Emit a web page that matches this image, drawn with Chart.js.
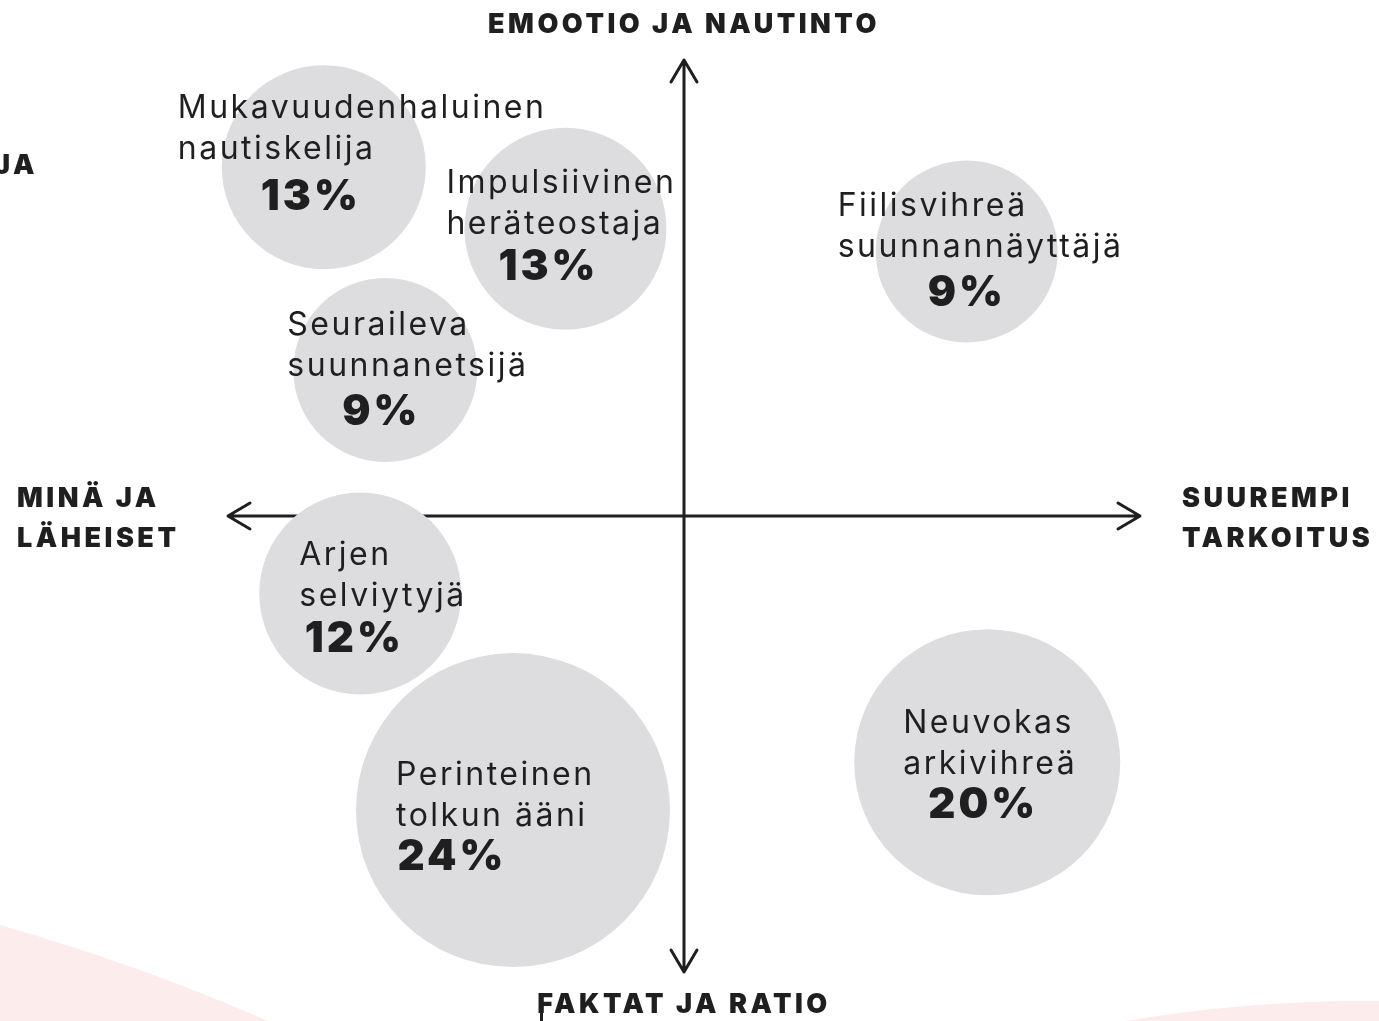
<!DOCTYPE html>
<html lang="fi">
<head>
<meta charset="utf-8">
<title>Kuluttajasegmentit</title>
<script src="https://cdn.jsdelivr.net/npm/chart.js@4"></script>
<style>
  html, body { margin: 0; padding: 0; background: #fff; overflow: hidden; }
  #wrap { width: 1379px; height: 1021px; }
</style>
</head>
<body>
<div id="wrap"><canvas id="segmentChart" width="1379" height="1021"></canvas></div>
<script>
// Segment data
const segmentNames = [
  ['Mukavuudenhaluinen', 'nautiskelija'],
  ['Impulsiivinen', 'heräteostaja'],
  ['Fiilisvihreä', 'suunnannäyttäjä'],
  ['Seuraileva', 'suunnanetsijä'],
  ['Arjen', 'selviytyjä'],
  ['Perinteinen', 'tolkun ääni'],
  ['Neuvokas', 'arkivihreä']
];
const shares = [13, 13, 9, 9, 12, 24, 20];
// position on the two axes: x = minä/läheiset (-) .. suurempi tarkoitus (+)
//                           y = faktat/ratio (-) .. emootio/nautinto (+)
const xValues = [-7.9, -2.6, 6.2, -6.55, -7.1, -3.75, 6.65];
const yValues = [7.65, 6.3, 5.8, 3.2, -1.7, -6.45, -5.4];
const bubbleRadius = [102, 101, 91, 92, 101, 157, 133];

// Axis labels
const axisTop = ['EMOOTIO JA NAUTINTO'];
const axisBottom = ['FAKTAT JA RATIO'];
const axisLeft = ['MINÄ JA', 'LÄHEISET'];
const axisRight = ['SUUREMPI', 'TARKOITUS'];
const axisExtent = 10;

// label placement relative to bubble centre: [textDx, textDy, pctDx, pctDy]
const labelOffsets = [
  [-146, -59, -13, 30],
  [-119, -45, -17, 39],
  [-129, -45, 0, 42],
  [-98, -45, -4, 42],
  [-61, -38, -6, 46],
  [-117, -35, -61, 47],
  [-84, -39, -4, 43]
];

const INK = '#1f1f1f';

// faint pink shapes at the bottom corners + the axis cross
const backdropPlugin = {
  id: 'backdrop',
  beforeDatasetsDraw(chart) {
    const { ctx, scales: { x, y } } = chart;
    ctx.save();
    ctx.fillStyle = '#fdecec';
    ctx.beginPath();
    ctx.moveTo(0, 925);
    ctx.quadraticCurveTo(140, 965, 268, 1021);
    ctx.lineTo(0, 1021);
    ctx.closePath();
    ctx.fill();
    ctx.beginPath();
    ctx.moveTo(1125, 1021);
    ctx.quadraticCurveTo(1250, 1000, 1379, 1001);
    ctx.lineTo(1379, 1021);
    ctx.closePath();
    ctx.fill();

    const cx = x.getPixelForValue(0), cy = y.getPixelForValue(0);
    const l = x.getPixelForValue(-axisExtent), r = x.getPixelForValue(axisExtent);
    const t = y.getPixelForValue(axisExtent), b = y.getPixelForValue(-axisExtent);
    ctx.strokeStyle = INK;
    ctx.lineWidth = 3;
    ctx.lineCap = 'round';
    ctx.lineJoin = 'round';
    ctx.beginPath();
    ctx.moveTo(l, cy); ctx.lineTo(r, cy);
    ctx.moveTo(cx, t); ctx.lineTo(cx, b);
    const h = 22, w = 13;
    ctx.moveTo(l + h, cy - w); ctx.lineTo(l, cy); ctx.lineTo(l + h, cy + w);
    ctx.moveTo(r - h, cy - w); ctx.lineTo(r, cy); ctx.lineTo(r - h, cy + w);
    ctx.moveTo(cx - w, t + h); ctx.lineTo(cx, t); ctx.lineTo(cx + w, t + h);
    ctx.moveTo(cx - w, b - h); ctx.lineTo(cx, b); ctx.lineTo(cx + w, b - h);
    ctx.stroke();
    ctx.restore();
  }
};

// segment names, shares and axis titles
const textPlugin = {
  id: 'texts',
  afterDatasetsDraw(chart) {
    const { ctx, scales: { x, y } } = chart;
    ctx.save();
    ctx.fillStyle = INK;
    ctx.textBaseline = 'middle';
    segmentNames.forEach((lines, i) => {
      const px = x.getPixelForValue(xValues[i]);
      const py = y.getPixelForValue(yValues[i]);
      const [dx, dy, pdx, pdy] = labelOffsets[i];
      ctx.font = '400 32px Inter, "DejaVu Sans", sans-serif';
      ctx.textAlign = 'left';
      ctx.letterSpacing = '2.5px';
      lines.forEach((line, k) => ctx.fillText(line, px + dx, py + dy + k * 41));
      ctx.font = '900 42px Inter, "DejaVu Sans", sans-serif';
      ctx.textAlign = 'center';
      ctx.letterSpacing = '3px';
      ctx.fillText(shares[i] + '%', px + pdx, py + pdy);
    });

    ctx.font = '900 27px Inter, "DejaVu Sans", sans-serif';
    ctx.letterSpacing = '3.5px';
    const cx = x.getPixelForValue(0), cy = y.getPixelForValue(0);
    ctx.textAlign = 'center';
    ctx.fillText(axisTop[0], cx, 25);
    ctx.fillText(axisBottom[0], cx, 1005);
    ctx.textAlign = 'left';
    axisLeft.forEach((s, k) => ctx.fillText(s, 17, cy - 17 + k * 40));
    axisRight.forEach((s, k) => ctx.fillText(s, 1182, cy - 17 + k * 40));
    // clipped fragment at the left edge of the source
    ctx.fillText('JA', -6, 166);
    ctx.fillRect(540, 994, 3, 27);
    ctx.restore();
  }
};

const PX_PER_UNIT = 45.6;
const centre = { x: 684, y: 516 };

new Chart(document.getElementById('segmentChart'), {
  type: 'bubble',
  data: {
    datasets: [{
      label: 'Segmentit',
      data: xValues.map((v, i) => ({ x: v, y: yValues[i], r: bubbleRadius[i] })),
      backgroundColor: '#dddde0',
      borderWidth: 0,
      hoverRadius: 0
    }]
  },
  options: {
    responsive: false,
    animation: false,
    layout: { padding: 0, autoPadding: false },
    clip: false,
    plugins: { legend: { display: false }, tooltip: { enabled: false }, title: { display: false } },
    scales: {
      x: { display: false, min: -centre.x / PX_PER_UNIT, max: (1379 - centre.x) / PX_PER_UNIT },
      y: { display: false, min: -(1021 - centre.y) / PX_PER_UNIT, max: centre.y / PX_PER_UNIT }
    }
  },
  plugins: [backdropPlugin, textPlugin]
});
</script>
</body>
</html>
